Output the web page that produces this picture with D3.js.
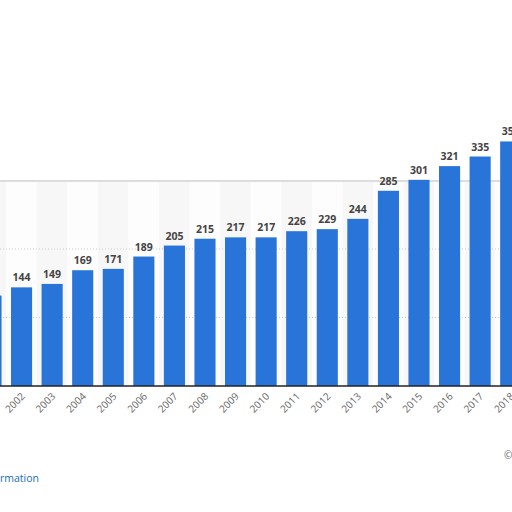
<!DOCTYPE html><html><head><script src="https://cdn.jsdelivr.net/npm/d3@7"></script>
<style>body{margin:0;background:#fff}</style></head><body><svg width="512" height="512"></svg><script>
const years=["2001","2002","2003","2004","2005","2006","2007","2008","2009","2010","2011","2012","2013","2014","2015","2016","2017","2018"];
const values=[132,144,149,169,171,189,205,215,217,217,226,229,244,285,301,321,335,357];
const yTicks=[100,200,300];
const svg=d3.select("svg");
const x=d3.scaleBand().domain(years).range([-24.3,526]).paddingInner(0.31).paddingOuter(0.155);
const y=d3.scaleLinear().domain([0,300]).range([386,180.5]);
const f="'Open Sans',Roboto,sans-serif";
svg.selectAll("rect.s").data(years).join("rect").attr("x",d=>x(d)-x.step()*0.155).attr("width",x.step())
 .attr("y",180).attr("height",206).attr("fill",(d,i)=>i%2?"#fdfdfd":"#f7f7f7");
svg.append("path").attr("d","M0,181 L512,181").attr("stroke","#ddd").attr("stroke-width",2);
svg.selectAll("line.g").data(yTicks.slice(0,2)).join("line").attr("x1",0).attr("x2",512)
 .attr("y1",d=>y(d)).attr("y2",d=>y(d)).attr("stroke","#ccc").attr("stroke-dasharray","1,2");
svg.selectAll("rect.b").data(values).join("rect").attr("x",(d,i)=>x(years[i])).attr("width",x.bandwidth())
 .attr("y",d=>y(d)).attr("height",d=>386-y(d)).attr("fill","#2874d8");
svg.selectAll("text.v").data(values).join("text").attr("x",(d,i)=>x(years[i])+x.bandwidth()/2).attr("y",d=>y(d)-6)
 .attr("text-anchor","middle").attr("font-family",f).attr("font-size",10.5).attr("font-weight","bold").attr("fill","#444").text(d=>d);
svg.append("line").attr("x1",0).attr("x2",512).attr("y1",386).attr("y2",386).attr("stroke","#222").attr("stroke-width",1.5);
svg.selectAll("text.t").data(years).join("text").attr("font-family",f).attr("font-size",10).attr("fill","#666")
 .attr("text-anchor","end").attr("transform",d=>`translate(${x(d)+x.bandwidth()/2+4},397) rotate(-45)`).text(d=>d);
svg.append("text").attr("x",0).attr("y",482).attr("font-family",f).attr("font-size",10.5).attr("fill","#1a6bbf").text("rmation");
svg.append("text").attr("x",504).attr("y",459).attr("font-family",f).attr("font-size",10).attr("fill","#666").text("©");
</script></body></html>
